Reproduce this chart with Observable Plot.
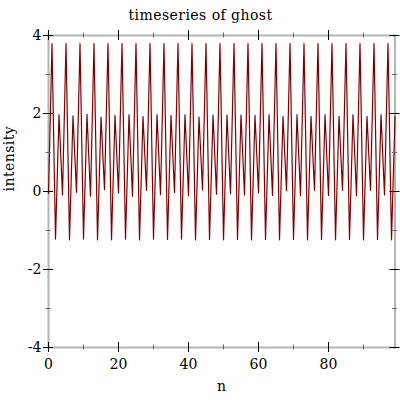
<!DOCTYPE html>
<html>
<head>
<meta charset="utf-8">
<script src="https://cdn.jsdelivr.net/npm/d3@7"></script>
<script src="https://cdn.jsdelivr.net/npm/@observablehq/plot@0.6"></script>
<style>
  html, body { margin: 0; padding: 0; background: #fff; }
  #chart svg { display: block; }
</style>
</head>
<body>
<div id="chart"></div>
<script>
// Signal values, grouped by position within the 4-sample cycle (n = 0..99)
const peakHigh = [3.79,3.79,3.79,3.79,3.79,3.79,3.79,3.79,3.79,3.79,3.79,3.79,3.79,3.79,3.79,3.79,3.79,3.79,3.79,3.79,3.79,3.79,3.79,3.79,3.79]; // n = 1,5,9,...
const troughLow = [-1.22,-1.24,-1.22,-1.24,-1.24,-1.22,-1.24,-1.22,-1.23,-1.22,-1.24,-1.23,-1.24,-1.23,-1.24,-1.23,-1.24,-1.23,-1.24,-1.23,-1.24,-1.23,-1.24,-1.23,-1.24]; // n = 2,6,10,...
const peakMid = [1.97,1.94,1.98,1.91,1.95,1.97,1.92,1.97,1.95,1.97,1.91,1.96,1.96,1.96,1.95,1.97,1.92,1.97,1.93,1.97,1.93,1.97,1.93,1.97,1.93]; // n = 3,7,11,...
const troughMid = [-0.05,-0.09,-0.02,-0.12,0.05,-0.04,-0.12,0.03,-0.08,-0.03,-0.11,0.04,-0.07,-0.06,-0.09,-0.04,-0.10,0.02,-0.11,0.03,-0.10,0.03,-0.11,0.03,-0.09]; // n = 0,4,8,...

const xMajor = [0, 20, 40, 60, 80];
const xMinor = [10, 30, 50, 70, 90];
const yMajor = [-4, -2, 0, 2, 4];
const yMinor = [-3, -1, 1, 3];
const xDomain = [0, 99];
const yDomain = [-4, 4];

const titleText = "timeseries of ghost";
const xLabel = "n";
const yLabel = "intensity";

// Build series table from the arrays
const series = [];
for (let k = 0; k < 25; k++) {
  series.push({n: 4 * k, v: troughMid[k]});
  series.push({n: 4 * k + 1, v: peakHigh[k]});
  series.push({n: 4 * k + 2, v: troughLow[k]});
  series.push({n: 4 * k + 3, v: peakMid[k]});
}

const font = "'DejaVu Serif', serif";
const fmt = d => String(d);

const chart = Plot.plot({
  width: 400,
  height: 400,
  marginLeft: 48,
  marginRight: 5.5,
  marginTop: 35,
  marginBottom: 53,
  style: {fontFamily: font, fontSize: "14px", background: "#fff", color: "#000"},
  x: {domain: xDomain},
  y: {domain: yDomain},
  marks: [
    // frame
    Plot.frame({stroke: "#b4b4b4", strokeWidth: 2}),
    // data line
    Plot.line(series, {x: "n", y: "v", stroke: "#800000", strokeWidth: 1.2}),
    // minor ticks (all four sides)
    Plot.ruleX(xMinor, {y1: yDomain[0], y2: yDomain[0], insetTop: -2.5, insetBottom: -2.5, stroke: "#666"}),
    Plot.ruleX(xMinor, {y1: yDomain[1], y2: yDomain[1], insetTop: -2.5, insetBottom: -2.5, stroke: "#666"}),
    Plot.ruleY(yMinor, {x1: xDomain[0], x2: xDomain[0], insetLeft: -2.5, insetRight: -2.5, stroke: "#666"}),
    Plot.ruleY(yMinor, {x1: xDomain[1], x2: xDomain[1], insetLeft: -2.5, insetRight: -2.5, stroke: "#666"}),
    // major ticks (all four sides)
    Plot.ruleX(xMajor, {y1: yDomain[0], y2: yDomain[0], insetTop: -5, insetBottom: -5, stroke: "#000"}),
    Plot.ruleX(xMajor, {y1: yDomain[1], y2: yDomain[1], insetTop: -5, insetBottom: -5, stroke: "#000"}),
    Plot.ruleY(yMajor, {x1: xDomain[0], x2: xDomain[0], insetLeft: -5, insetRight: -5, stroke: "#000"}),
    Plot.ruleY(yMajor, {x1: xDomain[1], x2: xDomain[1], insetLeft: -5, insetRight: -5, stroke: "#000"}),
    // tick labels
    Plot.axisX({ticks: xMajor, tickSize: 0, tickPadding: 12, tickFormat: fmt, label: null, fontSize: 14}),
    Plot.axisY({ticks: yMajor, tickSize: 0, tickPadding: 7, tickFormat: fmt, label: null, fontSize: 14}),
    // title and axis labels
    Plot.text([titleText], {frameAnchor: "top", dx: -21.25, dy: -25.5, fontSize: 14, fill: "#000"}),
    Plot.text([xLabel], {frameAnchor: "bottom", dy: 43, fontSize: 14, fill: "#000"}),
    Plot.text([yLabel], {frameAnchor: "left", dx: -39, rotate: -90, fontSize: 14, fill: "#000"})
  ]
});

// slightly wider letter spacing on title and axis labels, as in the reference rendering
d3.select(chart).selectAll("text")
  .filter(function () { return [titleText, xLabel, yLabel].includes(this.textContent); })
  .attr("letter-spacing", "0.45px");

document.getElementById("chart").appendChild(chart);
</script>
</body>
</html>
